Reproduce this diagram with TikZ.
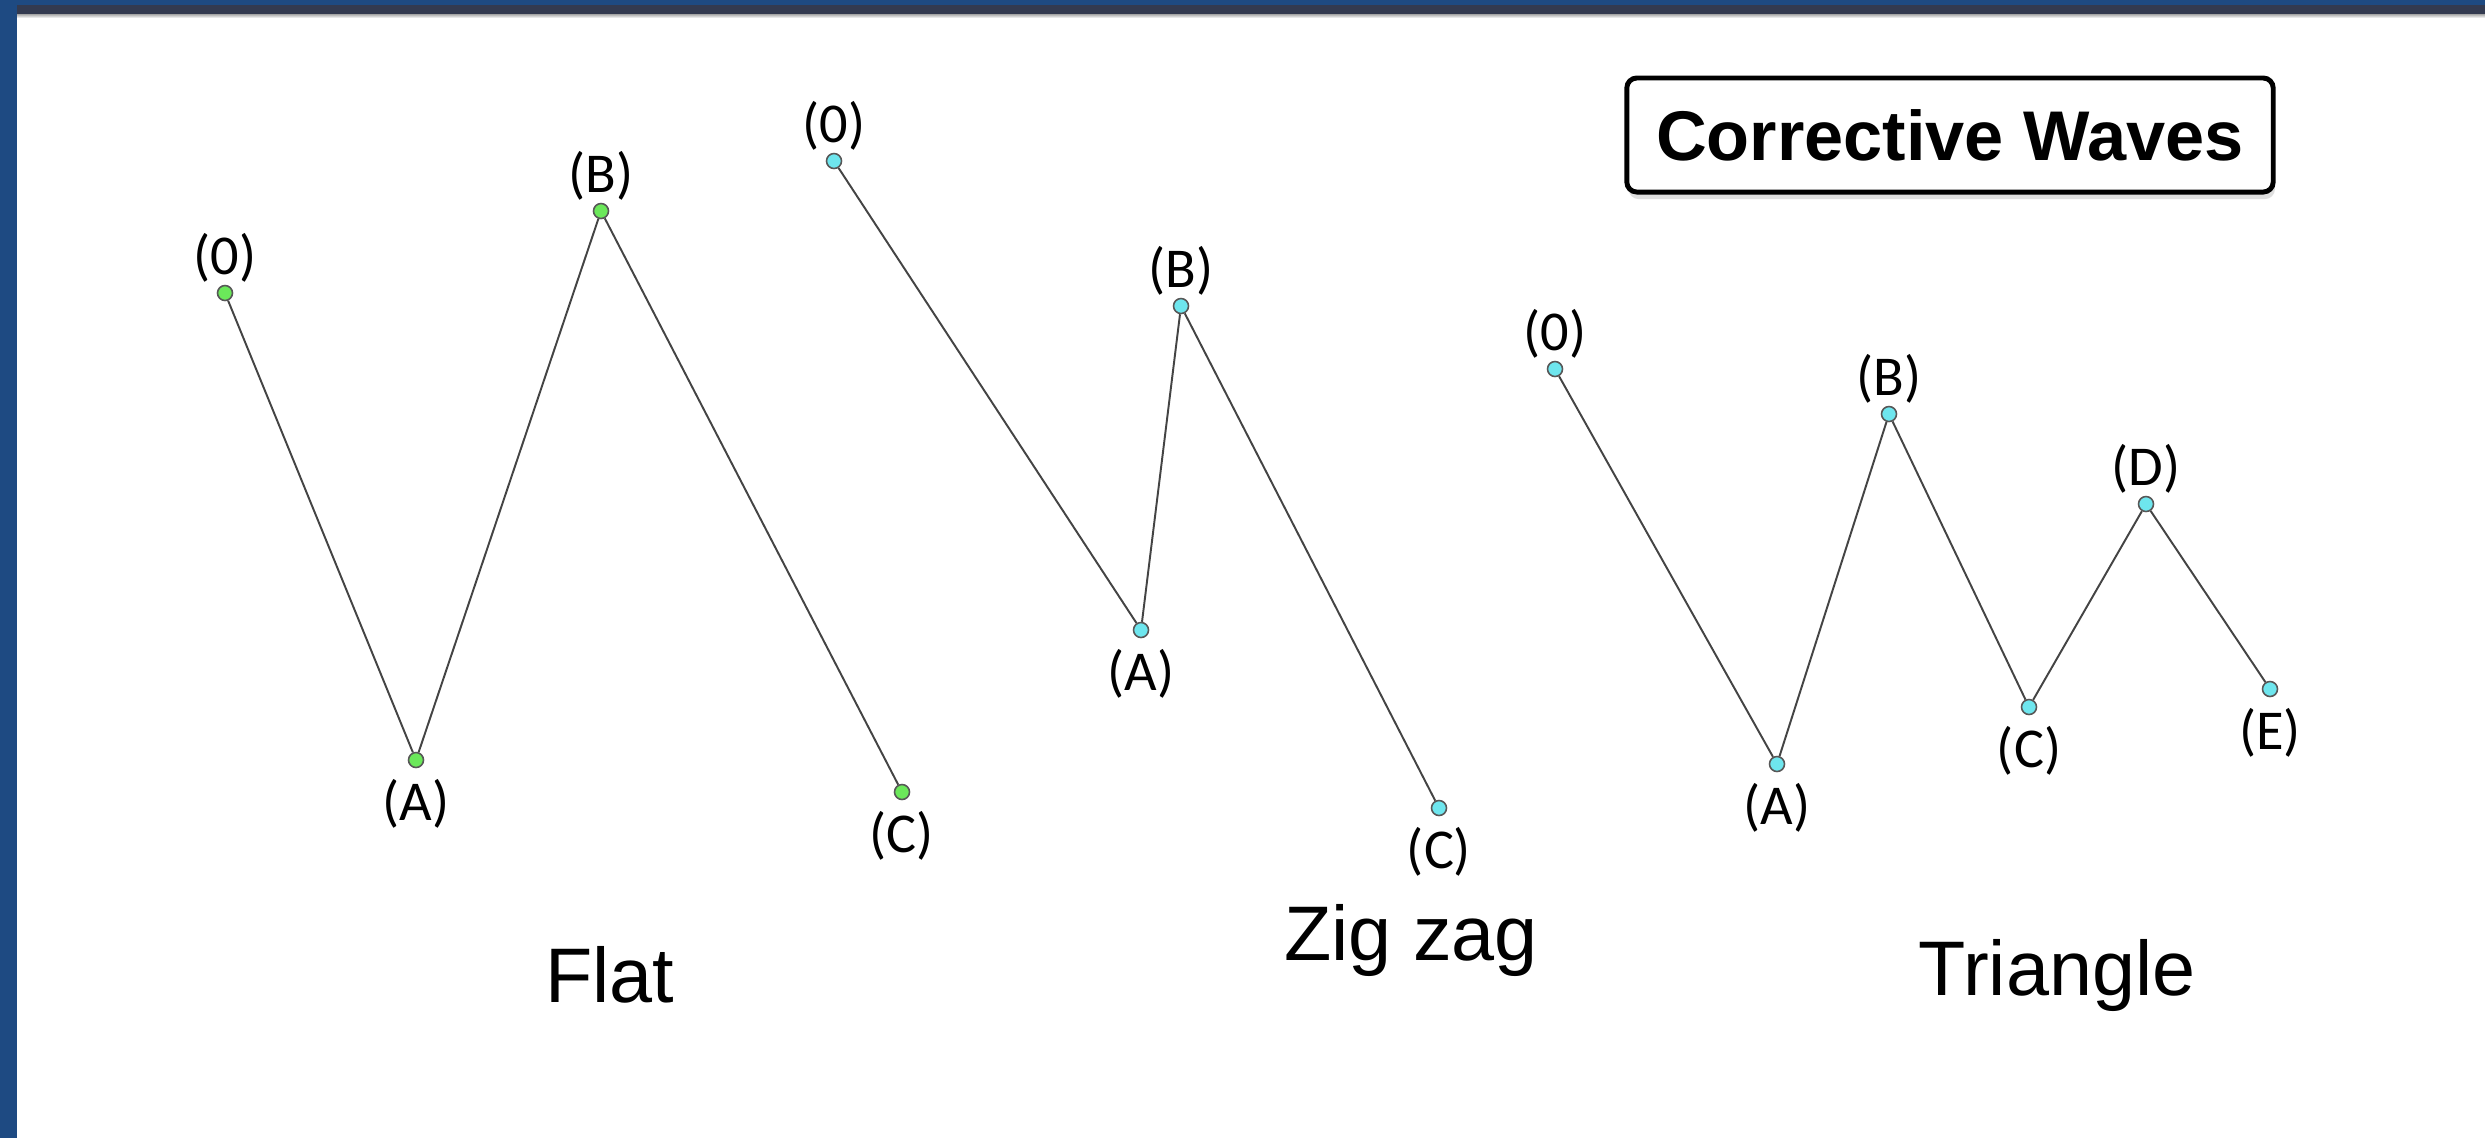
\documentclass[tikz,border=0pt]{standalone}
\usepackage{fontspec}
\setmainfont{Liberation Sans}
\newfontfamily\lblfont{Carlito}
\usetikzlibrary{shadows}
\definecolor{barblue}{HTML}{1E4A82}
\definecolor{bardark}{HTML}{333A50}
\definecolor{ptgreen}{HTML}{6BE85A}
\definecolor{ptcyan}{HTML}{6EE6EE}
\definecolor{wave}{HTML}{444444}
\tikzset{
  pt/.style={circle,draw=wave!90,line width=0.45pt,inner sep=0pt,minimum size=0.15cm},
  up/.style={label={[lbl,label distance=0.5pt]90:#1}},
  dn/.style={label={[lbl,label distance=3pt]-90:#1}},
  lbl/.style={inner sep=0pt,font=\lblfont\fontsize{16}{16}\selectfont},
  capt/.style={font=\fontsize{22}{22}\selectfont},
  leg/.style={draw=wave,line width=0.55pt}
}

\begin{document}
\begin{tikzpicture}[x=0.01cm,y=-0.01cm]
\useasboundingbox (0,0) rectangle (2485,1138);
%frame
\fill[white] (0,0) rectangle (2485,1138);
\fill[barblue] (0,0) rectangle (17,1138);
\fill[barblue] (0,0) rectangle (2485,5);
\fill[bardark] (17,5) rectangle (2485,14);
\shade[top color=black!35,bottom color=white] (17,14) rectangle (2485,18);

%title
\node (title) at (1950,135) [draw,line width=1.4pt,rounded corners=0.1cm,fill=white,
  minimum width=6.46cm,minimum height=1.14cm,
  drop shadow={shadow xshift=0.5pt,shadow yshift=-2pt,opacity=0.25}]
  {\fontsize{20}{20}\selectfont\bfseries Corrective Waves};

%flat
\node (f0) at (225,293) [pt,fill=ptgreen,up=(0)] {};
\node (fA) at (416,760) [pt,fill=ptgreen,dn=(A)] {};
\node (fB) at (601,211) [pt,fill=ptgreen,up=(B)] {};
\node (fC) at (902,792) [pt,fill=ptgreen,dn=(C)] {};
\draw[leg] (f0) -- (fA) -- (fB) -- (fC);
\node (flat) at (610,975) [capt] {Flat};

%zig zag
\node (z0) at (834,161) [pt,fill=ptcyan,up=(0)] {};
\node (zA) at (1141,630) [pt,fill=ptcyan,dn=(A)] {};
\node (zB) at (1181,306) [pt,fill=ptcyan,up=(B)] {};
\node (zC) at (1439,808) [pt,fill=ptcyan,dn=(C)] {};
\draw[leg] (z0) -- (zA) -- (zB) -- (zC);
\node (zig) at (1411,940) [capt] {Zig zag};

%triangle
\node (t0) at (1555,369) [pt,fill=ptcyan,up=(0)] {};
\node (tA) at (1777,764) [pt,fill=ptcyan,dn=(A)] {};
\node (tB) at (1889,414) [pt,fill=ptcyan,up=(B)] {};
\node (tC) at (2029,707) [pt,fill=ptcyan,dn=(C)] {};
\node (tD) at (2146,504) [pt,fill=ptcyan,up=(D)] {};
\node (tE) at (2270,689) [pt,fill=ptcyan,dn=(E)] {};
\draw[leg] (t0) -- (tA) -- (tB) -- (tC) -- (tD) -- (tE);
\node (tri) at (2057,975) [capt] {Triangle};
\end{tikzpicture}
\end{document}
